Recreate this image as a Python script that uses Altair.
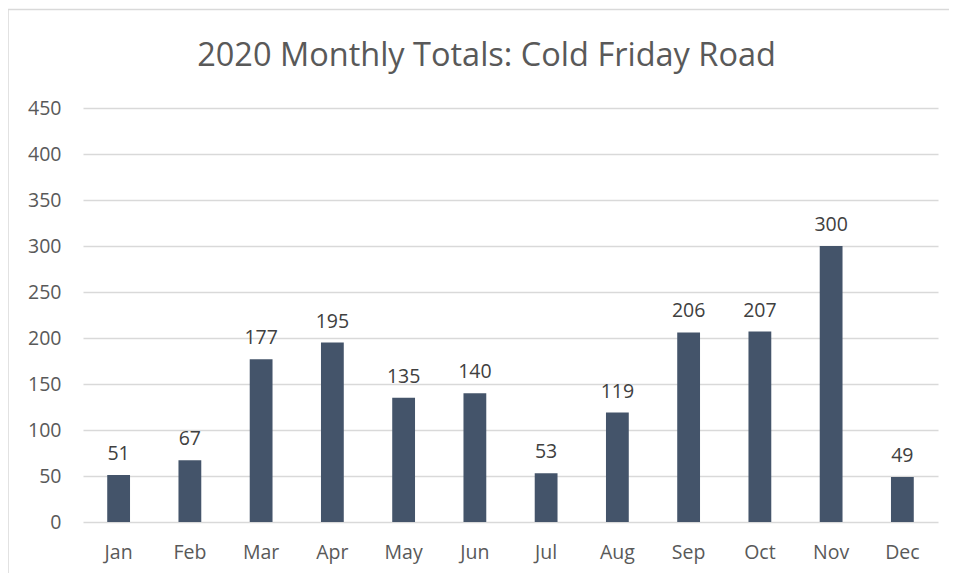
import altair as alt
import pandas as pd

months = ["Jan", "Feb", "Mar", "Apr", "May", "Jun", "Jul", "Aug", "Sep", "Oct", "Nov", "Dec"]
totals = [51, 67, 177, 195, 135, 140, 53, 119, 206, 207, 300, 49]
y_ticks = [0, 50, 100, 150, 200, 250, 300, 350, 400, 450]
title_text = "2020 Monthly Totals: Cold Friday Road"

df = pd.DataFrame({"month": months, "total": totals})

FONT = "Open Sans"
BAR = "#44546A"
GRID = "#D9D9D9"
AXIS_TXT = "#595959"

x_enc = alt.X("month:N", sort=months, title=None,
              scale=alt.Scale(paddingInner=0.68, paddingOuter=0.34),
              axis=alt.Axis(labelAngle=0, labelFont=FONT, labelFontSize=19.5,
                            labelColor=AXIS_TXT, labelPadding=21, ticks=False,
                            domain=False, grid=False))
y_enc = alt.Y("total:Q", title=None,
              scale=alt.Scale(domain=[0, 450], nice=False),
              axis=alt.Axis(values=y_ticks, labelFont=FONT, labelFontSize=19.5,
                            labelColor=AXIS_TXT, labelPadding=22, ticks=False,
                            domain=False, grid=True, gridColor=GRID,
                            gridWidth=1.3))

one = pd.DataFrame({"k": [0]})

border_left = alt.Chart(one).mark_rule(color=GRID, strokeWidth=1.5).encode(
    x=alt.value(-75), y=alt.value(-98.5), y2=alt.value(490))
border_top = alt.Chart(one).mark_rule(color=GRID, strokeWidth=1.5).encode(
    x=alt.value(-75), x2=alt.value(900), y=alt.value(-98.5))

title_mark = alt.Chart(one).mark_text(
    font=FONT, fontSize=32.5, color=AXIS_TXT, align="center", baseline="alphabetic"
).encode(x=alt.value(403.5), y=alt.value(-42), text=alt.value(title_text))

bars = alt.Chart(df).mark_bar(color=BAR).encode(x=x_enc, y=y_enc)

labels = alt.Chart(df).mark_text(
    baseline="alphabetic", dy=-15, font=FONT, fontSize=19.5, color="#404040"
).encode(x=alt.X("month:N", sort=months), y="total:Q", text="total:Q")

chart = alt.layer(border_left, border_top, title_mark, bars, labels).properties(
    width=855, height=414,
    autosize=alt.AutoSizeParams(type="none"),
    padding={"left": 75, "top": 100, "right": 11, "bottom": 51},
).configure(background="white").configure_view(stroke=None)

chart.save("out.html", embed_options={"renderer": "svg", "actions": False})
